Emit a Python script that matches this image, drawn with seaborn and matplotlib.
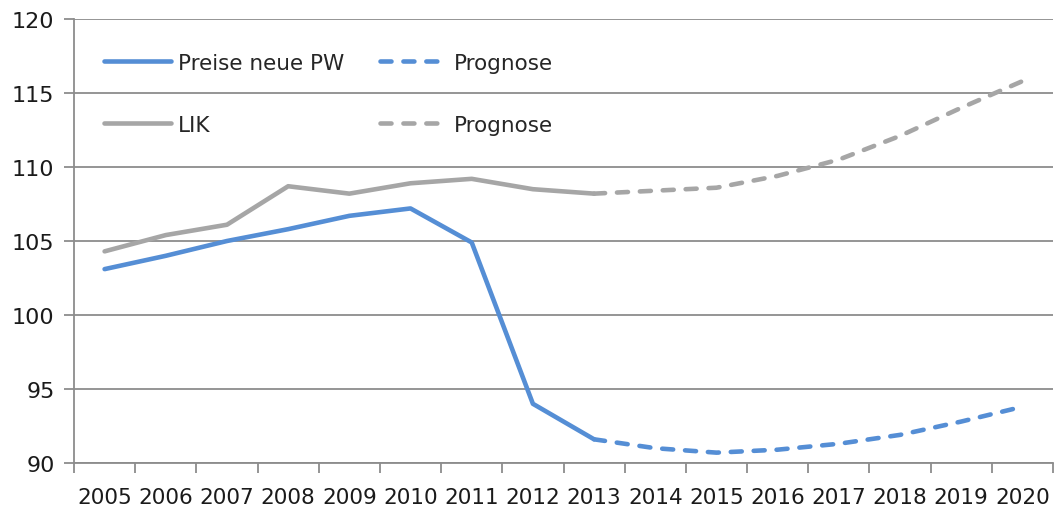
import numpy as np
import pandas as pd
import matplotlib
matplotlib.use("Agg")
import matplotlib.pyplot as plt
import seaborn as sns
from matplotlib.lines import Line2D

years = [str(y) for y in range(2005, 2021)]
pw_actual = [103.1, 104.0, 105.0, 105.8, 106.7, 107.2, 104.9, 94.0, 91.6]
pw_forecast = [91.6, 91.0, 90.7, 90.9, 91.3, 91.9, 92.8, 93.8]
lik_actual = [104.3, 105.4, 106.1, 108.7, 108.2, 108.9, 109.2, 108.5, 108.2]
lik_forecast = [108.2, 108.4, 108.6, 109.4, 110.5, 112.1, 114.0, 115.8]

blue = "#558ED5"
gray = "#A6A6A6"
axis_gray = "#8C8C8C"

sns.set_theme(style="white")
plt.rcParams["font.family"] = ["DejaVu Sans"]

fig = plt.figure(figsize=(10.54, 5.06), dpi=100)
ax = fig.add_axes([74/1054, 1 - 464/506, 979/1054, 444/506])

n_act = len(pw_actual)
x_act = list(range(n_act))
x_fc = list(range(n_act - 1, len(years)))

lw = 3.3
dash = (0, (2.4, 2.6))

sns.lineplot(x=x_act, y=pw_actual, ax=ax, color=blue, lw=lw, solid_capstyle="round")
sns.lineplot(x=x_fc, y=pw_forecast, ax=ax, color=blue, lw=lw, linestyle=dash, dash_capstyle="round")
sns.lineplot(x=x_act, y=lik_actual, ax=ax, color=gray, lw=lw, solid_capstyle="round")
sns.lineplot(x=x_fc, y=lik_forecast, ax=ax, color=gray, lw=lw, linestyle=dash, dash_capstyle="round")
for l in ax.lines[:2]:
    l.set_zorder(4)

ax.set_xlim(-0.5, len(years) - 0.5)
ax.set_ylim(90, 120)
ax.set_yticks(np.arange(90, 121, 5))
ax.yaxis.grid(True, color=axis_gray, lw=1.3)
ax.set_axisbelow(True)

ax.set_xticks(np.arange(len(years)))
ax.set_xticklabels(years)
ax.set_xticks(np.arange(-0.5, len(years)), minor=True)
ax.tick_params(axis="x", which="major", length=0, pad=17, labelsize=15.5, labelcolor="#1a1a1a")
ax.tick_params(axis="x", which="minor", length=7, width=1.3, color=axis_gray, direction="out", bottom=True)
ax.tick_params(axis="y", length=7, width=1.3, color=axis_gray, left=True, pad=7, labelsize=16, labelcolor="#1a1a1a")

for s in ["top", "right"]:
    ax.spines[s].set_visible(False)
for s in ["left", "bottom"]:
    ax.spines[s].set_color(axis_gray)
    ax.spines[s].set_linewidth(1.3)

handles = [
    Line2D([], [], color=blue, lw=lw, solid_capstyle="round"),
    Line2D([], [], color=gray, lw=lw, solid_capstyle="round"),
    Line2D([], [], color=blue, lw=lw, linestyle=dash, dash_capstyle="round"),
    Line2D([], [], color=gray, lw=lw, linestyle=dash, dash_capstyle="round"),
]
labels = ["Preise neue PW", "LIK", "Prognose", "Prognose"]
ax.legend(handles, labels, ncol=2, loc="upper left", bbox_to_anchor=(0.031, 0.924),
          frameon=False, fontsize=15.5, handlelength=3.1, handletextpad=0.3,
          columnspacing=1.7, labelspacing=1.96, borderpad=0, borderaxespad=0)

fig.savefig("out.png", dpi=100)
